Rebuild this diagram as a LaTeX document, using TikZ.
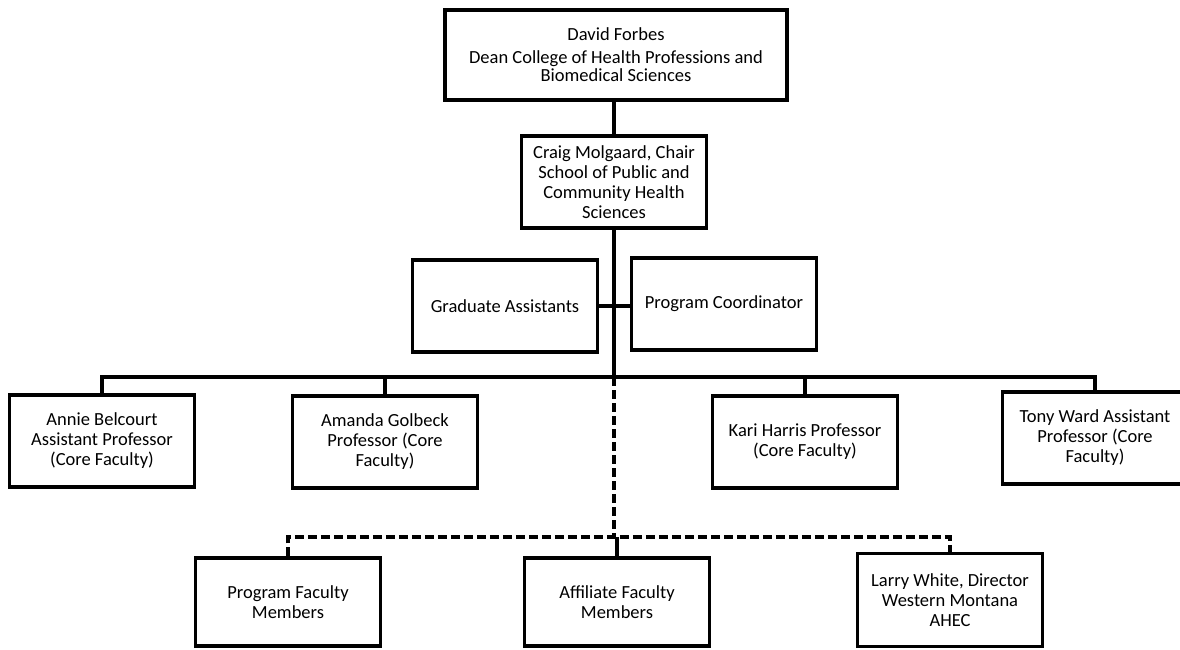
\documentclass[tikz,border=0pt]{standalone}
\usepackage{fontspec}
\setmainfont{Carlito}
\begin{document}
\begin{tikzpicture}[x=1pt, y=-1pt,
		box_style/.style={rectangle,draw=black,line width=3.5pt,fill=white,minimum width=185pt,minimum height=92pt,align=center,inner sep=2pt,font=\fontsize{18.5}{20}\selectfont},
		edge_style/.style={draw=black,line width=3.5pt},
		dash_style/.style={draw=black,line width=3.5pt,dash pattern=on 9pt off 4pt}]

		\useasboundingbox (0,0) rectangle (1180,649);

		\node[box_style,minimum width=342pt,minimum height=90pt,font=\fontsize{18.5}{18}\selectfont] (dean) at (616,55) {David Forbes\\[5pt]Dean College of Health Professions and\\Biomedical Sciences};
		\node[box_style] (chair) at (614,182) {Craig Molgaard, Chair\\School of Public and\\Community Health\\Sciences};
		\node[box_style] (grad) at (505,306) {Graduate Assistants};
		\node[box_style] (coord) at (724,304) {Program Coordinator};
		\node[box_style] (annie) at (102,441) {Annie Belcourt\\Assistant Professor\\(Core Faculty)};
		\node[box_style] (amanda) at (385,442) {Amanda Golbeck\\Professor (Core\\Faculty)};
		\node[box_style] (kari) at (805,442) {Kari Harris Professor\\(Core Faculty)};
		\node[box_style] (tony) at (1095,438) {Tony Ward Assistant\\Professor (Core\\Faculty)};
		\node[box_style,minimum height=88pt] (progfac) at (288,602) {Program Faculty\\Members};
		\node[box_style,minimum height=88pt] (affil) at (617,602) {Affiliate Faculty\\Members};
		\node[box_style,minimum height=93pt] (larry) at (950,600) {Larry White, Director\\Western Montana\\AHEC};

		\coordinate (bus) at (614,377);
		\coordinate (split) at (614,537);

		\draw[edge_style] (chair.north) -- (chair.north |- dean.south);
		\draw[edge_style] (chair.south) -- (bus);
		\draw[edge_style] (grad.east) -- (grad.east -| coord.west);
		\draw[edge_style] (annie.north) |- (bus) -| (tony.north);
		\draw[edge_style] (amanda.north) -- (amanda.north |- bus);
		\draw[edge_style] (kari.north) -- (kari.north |- bus);
		\draw[dash_style] (bus) -- (split);
		\draw[dash_style] (progfac.north) |- (split) -| (larry.north);
		\draw[edge_style] (affil.north) -- (affil.north |- split);
\end{tikzpicture}
\end{document}
